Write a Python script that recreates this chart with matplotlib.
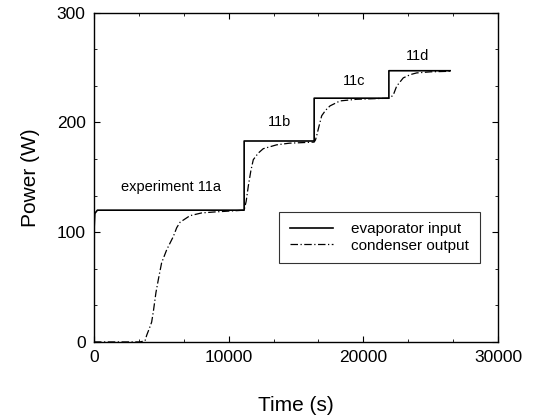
import matplotlib
matplotlib.use("Agg")
import matplotlib.pyplot as plt
from matplotlib.ticker import MultipleLocator

plt.rcParams['font.family'] = ['Liberation Sans', 'DejaVu Sans']

# evaporator input (step function)
evap_t = [0, 15, 60, 250, 11150, 11150, 16350, 16350, 21900, 21900, 26450]
evap_p = [0, 105, 117, 120, 120, 183, 183, 222, 222, 247, 247]

# condenser output
cond_t = [0, 3400, 3790, 3910, 4100, 4280, 4410, 4600, 4780, 5020, 5400, 5890, 6140, 6390,
          7130, 8000, 9110, 10500, 11150, 11300, 11460, 11650, 11830, 12200, 12570, 13560,
          14500, 16350, 16450, 16540, 16700, 16910, 17200, 17530, 18270, 19500, 21900,
          22050, 22230, 22480, 22970, 23500, 23960, 25000, 26450]
cond_p = [0, 0, 1, 6, 12, 18, 28, 45, 57, 72, 84, 96, 104, 109,
          115, 117.5, 118.5, 119.5, 120, 128, 142, 156, 166, 172, 176, 179.5,
          181, 182, 184, 188, 196, 206, 211, 215, 219.5, 221, 222,
          223, 225, 233, 240.5, 243.5, 245, 246, 246.5]

x_ticks = [0, 10000, 20000, 30000]
y_ticks = [0, 100, 200, 300]

labels = [("experiment 11a", 5700, 141), ("11b", 13800, 200),
          ("11c", 19300, 238), ("11d", 24000, 260)]

fig = plt.figure(figsize=(5.36, 4.18), dpi=100)
ax = fig.add_axes([0.1754, 0.182, 0.929 - 0.1754, 0.970 - 0.182])

ax.plot(evap_t, evap_p, color='black', lw=1.2, label='evaporator input')
ax.plot(cond_t, cond_p, color='black', lw=0.9, linestyle=(0, (6, 2, 1, 2)),
        label='condenser output')

for txt, x, y in labels:
    ax.text(x, y, txt, ha='center', va='center', fontsize=10.5)

ax.set_xlim(0, 30000)
ax.set_ylim(0, 300)
ax.set_xticks(x_ticks)
ax.set_yticks(y_ticks)
ax.yaxis.set_minor_locator(MultipleLocator(100 / 3))
ax.xaxis.set_minor_locator(MultipleLocator(10000 / 3))
ax.tick_params(direction='in', which='both', top=True, right=True, labelsize=12.5)
ax.tick_params(which='major', length=4, pad=6)
ax.tick_params(which='minor', length=2.5)
ax.set_xlabel('Time (s)', fontsize=15, labelpad=22)
ax.set_ylabel('Power (W)', fontsize=15, labelpad=12)
for s in ax.spines.values():
    s.set_linewidth(1.0)

leg = ax.legend(loc='lower right', bbox_to_anchor=(0.955, 0.239), fontsize=11,
                frameon=True, fancybox=False, edgecolor='black', handlelength=2.8,
                handletextpad=1.2, borderpad=0.7, labelspacing=0.15, borderaxespad=0)
leg.get_frame().set_linewidth(0.8)

fig.savefig('out.png', dpi=100)
